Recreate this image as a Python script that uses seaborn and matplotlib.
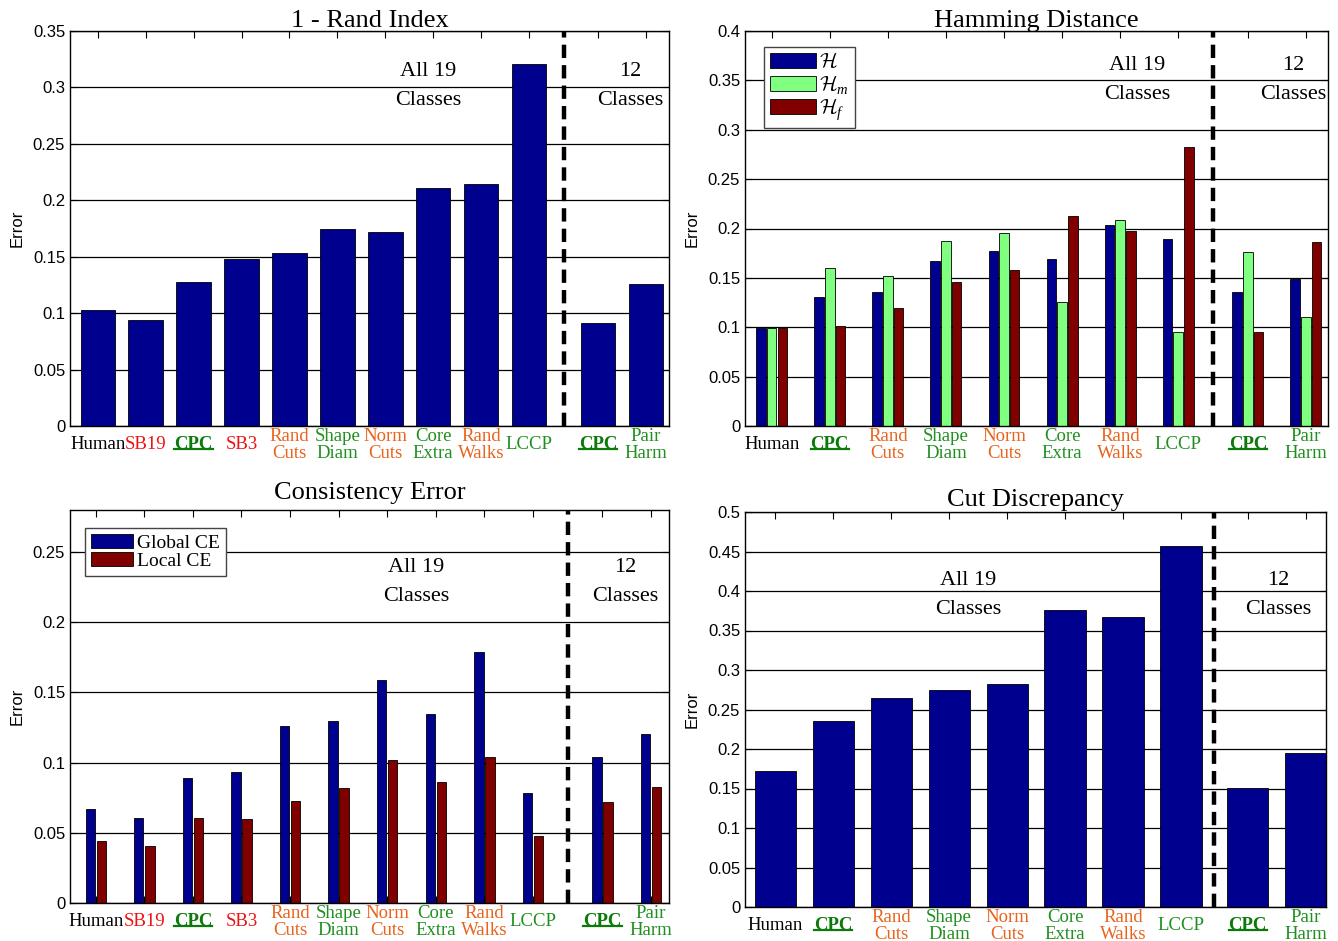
import numpy as np
import pandas as pd
import matplotlib
matplotlib.use("Agg")
import matplotlib.pyplot as plt
import seaborn as sns
from matplotlib.ticker import FuncFormatter
from matplotlib.lines import Line2D

# ---------------- data ----------------
methods_19 = ["Human", "SB19", "CPC", "SB3", "Rand\nCuts", "Shape\nDiam",
              "Norm\nCuts", "Core\nExtra", "Rand\nWalks", "LCCP", "CPC", "Pair\nHarm"]
methods_short = ["Human", "CPC", "Rand\nCuts", "Shape\nDiam", "Norm\nCuts",
                 "Core\nExtra", "Rand\nWalks", "LCCP", "CPC", "Pair\nHarm"]

rand_index = [0.103, 0.094, 0.1275, 0.148, 0.153, 0.175, 0.172, 0.211, 0.2145, 0.321, 0.091, 0.126]

hamming_H = [0.099, 0.131, 0.1355, 0.167, 0.177, 0.1696, 0.2034, 0.189, 0.136, 0.149]
hamming_Hm = [0.099, 0.160, 0.152, 0.187, 0.195, 0.126, 0.209, 0.0956, 0.176, 0.110]
hamming_Hf = [0.099, 0.101, 0.1196, 0.146, 0.158, 0.2125, 0.1976, 0.2824, 0.095, 0.186]

global_ce = [0.0668, 0.0604, 0.0891, 0.0933, 0.1258, 0.1296, 0.159, 0.135, 0.179, 0.0784, 0.104, 0.1203]
local_ce = [0.0443, 0.0407, 0.0604, 0.0599, 0.0727, 0.0822, 0.1018, 0.0862, 0.104, 0.0474, 0.072, 0.0827]

cut_discrepancy = [0.1726, 0.235, 0.264, 0.275, 0.2826, 0.3756, 0.367, 0.4564, 0.151, 0.1954]

n_all19_a = 10   # methods evaluated on all 19 classes (first chart family)
n_all19_b = 8

# ---------------- style ----------------
NAVY = "#00008F"
LGREEN = "#80FF80"
DRED = "#800000"
RED = "#EE1111"
ORANGE = "#E8641E"
GREEN = "#1F8F1F"
CPCGREEN = "#0B7A0B"
label_colors = {"Human": "black", "SB19": RED, "SB3": RED, "CPC": CPCGREEN,
                "Rand\nCuts": ORANGE, "Norm\nCuts": ORANGE, "Rand\nWalks": ORANGE,
                "Shape\nDiam": GREEN, "Core\nExtra": GREEN, "LCCP": GREEN,
                "Pair\nHarm": GREEN}

plt.rcParams["font.family"] = ["Liberation Serif", "DejaVu Serif"]
plt.rcParams["mathtext.fontset"] = "custom"
plt.rcParams["mathtext.cal"] = "cmsy10"
plt.rcParams["mathtext.it"] = "Liberation Serif:italic"
plt.rcParams["mathtext.rm"] = "Liberation Serif"

fig = plt.figure(figsize=(13.38, 9.41), dpi=100)
W, H = 1338.0, 941.0


def axes_px(l, t, r, b):
    return fig.add_axes([l / W, 1 - b / H, (r - l) / W, (b - t) / H])


underline_labels = []


def panel(ax, methods, series, names, colors, n_main, shift, width, gap,
          xlim, ylim, ytop_tick, title, title_pad, txt_main, txt_12):
    n = len(methods)
    idx = np.arange(n)
    pos = idx + shift * (idx >= n_main)
    frames = [pd.DataFrame({"pos": pos, "value": v, "metric": nm})
              for nm, v in zip(names, series)]
    df = pd.concat(frames, ignore_index=True)
    if len(series) > 1:
        sns.barplot(data=df, x="pos", y="value", hue="metric", hue_order=names,
                    palette=colors, native_scale=True, width=width, gap=gap,
                    edgecolor="black", linewidth=0.6, saturation=1,
                    errorbar=None, ax=ax)
    else:
        sns.barplot(data=df, x="pos", y="value", color=colors[0],
                    native_scale=True, width=width, edgecolor="black",
                    linewidth=0.6, saturation=1, errorbar=None, ax=ax)
    ax.set_xlim(*xlim)
    ax.set_ylim(0, ylim)
    yt = np.arange(0, ytop_tick + 1e-9, 0.05)
    ax.set_yticks(yt)
    ax.yaxis.set_major_formatter(FuncFormatter(lambda v, _: f"{v:g}"))
    ax.set_axisbelow(True)
    ax.yaxis.grid(True, color="black", lw=0.9)
    ax.xaxis.grid(False)
    for s in ax.spines.values():
        s.set_color("black")
        s.set_linewidth(1.0)
        s.set_visible(True)
    ax.set_xticks(pos)
    ax.set_xticklabels(methods)
    ax.tick_params(axis="x", direction="in", top=True, bottom=True, length=5,
                   width=0.8, pad=13.5, labelsize=13.5)
    ax.tick_params(axis="y", direction="in", left=True, right=True, length=5,
                   width=0.8, labelsize=12, labelfontfamily="Liberation Sans")
    for lbl, m in zip(ax.get_xticklabels(), methods):
        lbl.set_color(label_colors[m])
        lbl.set_va("center")
        lbl.set_linespacing(1.0)
        if m == "CPC":
            lbl.set_fontweight("bold")
            underline_labels.append(lbl)
    ax.set_xlabel("")
    ax.set_ylabel("Error", fontsize=12, family="Liberation Sans", labelpad=6)
    ax.set_title(title, fontsize=19, pad=title_pad)
    ax.axvline(n_main - 1 + (1 + shift) / 2, color="black", lw=3.2,
               ls=(0, (3, 1.6)), zorder=6)
    ax.text(txt_main[0], txt_main[1], "All 19\nClasses", transform=ax.transAxes,
            ha="center", va="center", fontsize=16, linespacing=1.75, zorder=7)
    ax.text(txt_12[0], txt_12[1], "12\nClasses", transform=ax.transAxes,
            ha="center", va="center", fontsize=16, linespacing=1.75, zorder=7)
    if ax.get_legend() is not None:
        ax.get_legend().remove()


# Top-left: 1 - Rand Index
ax1 = axes_px(70, 31, 669, 426)
panel(ax1, methods_19, [rand_index], ["RI"], [NAVY], n_all19_a, 0.44, 0.72, 0,
      (-0.58, 11.92), 0.35, 0.35, "1 - Rand Index", 3,
      (0.598, 0.861), (0.935, 0.861))

# Top-right: Hamming distance
ax2 = axes_px(745, 31, 1328, 426)
hnames = [r"$\mathcal{H}$", r"$\mathcal{H}_m$", r"$\mathcal{H}_f$"]
panel(ax2, methods_short, [hamming_H, hamming_Hm, hamming_Hf], hnames,
      [NAVY, LGREEN, DRED], n_all19_b, 0.2, 0.555, 0.12,
      (-0.46, 9.58), 0.4, 0.4, "Hamming Distance", 3,
      (0.672, 0.876), (0.94, 0.876))
hnd, lab = ax2.get_legend_handles_labels()
leg = ax2.legend(hnd, lab, loc="upper left", bbox_to_anchor=(0.033, 0.96),
                 borderaxespad=0, fontsize=15, handlelength=2.2, handleheight=0.7,
                 labelspacing=0.0, handletextpad=0.15, borderpad=0.3,
                 fancybox=False, framealpha=1, edgecolor="#444444")
leg.get_frame().set_linewidth(1.0)
leg.set_zorder(8)

# Bottom-left: Consistency error
ax3 = axes_px(70, 510, 669, 903)
panel(ax3, methods_19, [global_ce, local_ce], ["Global CE", "Local CE"],
      [NAVY, DRED], n_all19_a, 0.43, 0.455, 0.15,
      (-0.53, 11.8), 0.28, 0.25, "Consistency Error", 8,
      (0.578, 0.817), (0.927, 0.817))
hnd, lab = ax3.get_legend_handles_labels()
leg = ax3.legend(hnd, lab, loc="upper left", bbox_to_anchor=(0.025, 0.954),
                 borderaxespad=0, fontsize=14, handlelength=2.15, handleheight=0.7,
                 labelspacing=0.05, handletextpad=0.25, borderpad=0.3,
                 fancybox=False, framealpha=1, edgecolor="#444444")
leg.get_frame().set_linewidth(1.0)
leg.set_zorder(8)

# Bottom-right: Cut discrepancy
ax4 = axes_px(745, 512, 1326, 907)
panel(ax4, methods_short, [cut_discrepancy], ["CD"], [NAVY], n_all19_b, 0.15, 0.71, 0,
      (-0.52, 9.5), 0.5, 0.5, "Cut Discrepancy", 4,
      (0.384, 0.79), (0.917, 0.79))

# underline the bold CPC labels
fig.canvas.draw()
renderer = fig.canvas.get_renderer()
for lbl in underline_labels:
    bb = lbl.get_window_extent(renderer)
    y = bb.y0 + 4
    fig.add_artist(Line2D([bb.x0 / W, bb.x1 / W], [y / H, y / H],
                          transform=fig.transFigure, color=CPCGREEN, lw=1.6))

fig.savefig("out.png", dpi=100)
